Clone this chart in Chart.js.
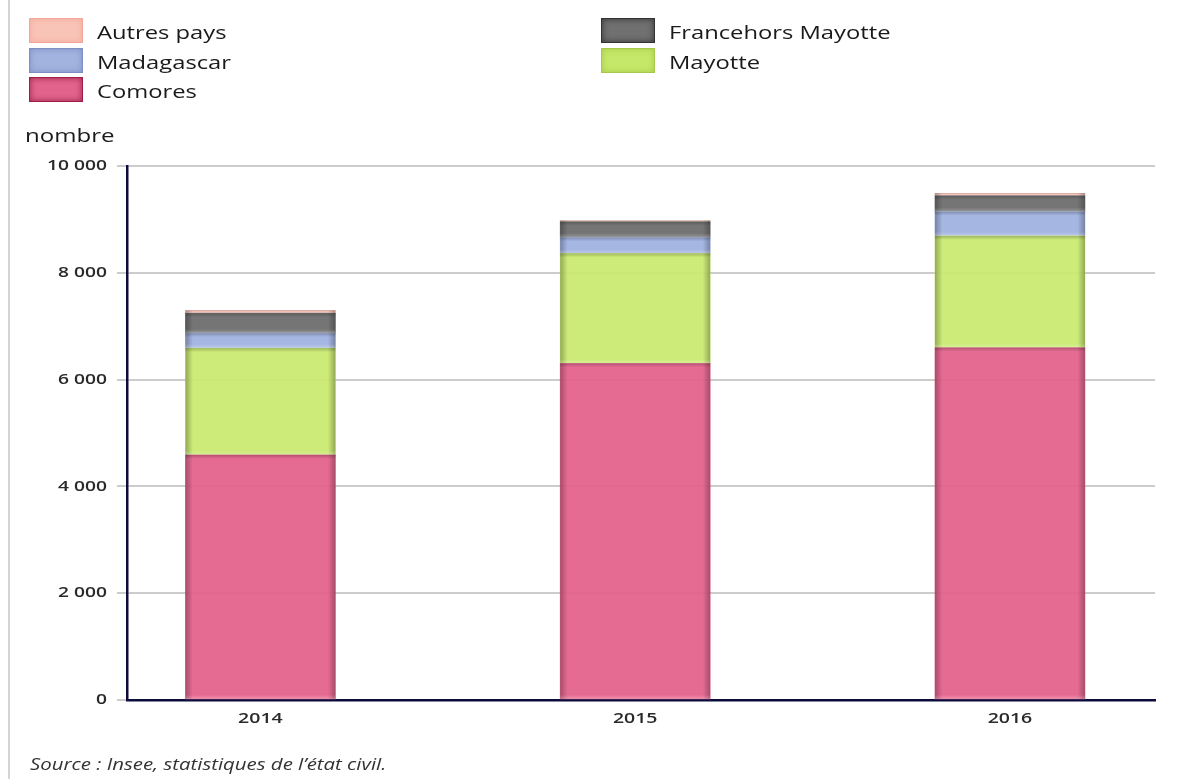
<!DOCTYPE html>
<html>
<head>
<meta charset="utf-8">
<script src="https://cdn.jsdelivr.net/npm/chart.js@4/dist/chart.umd.min.js"></script>
<style>
  html, body { margin: 0; padding: 0; background: #fff; }
  body { width: 1192px; height: 779px; position: relative; overflow: hidden; font-family: "Open Sans", sans-serif; }
  #wrap { position: absolute; left: 0; top: 0; width: 1192px; height: 779px; }
  #border { position: absolute; left: 8px; top: 0; width: 2px; height: 779px; background: #d4d4d4; }
  .leg { position: absolute; height: 25px; display: flex; align-items: center; color: #1a1a1a; white-space: nowrap; }
  .leg .box { width: 54px; height: 25px; margin-right: 14px; box-sizing: border-box; flex: none; }
  .leg .txt { display: inline-block; font-size: 19px; transform: scaleX(1.25); transform-origin: left center; margin-top: 3px; }
  #unit { position: absolute; left: 25px; top: 122px; font-size: 18.5px; color: #1a1a1a; transform: scaleX(1.3); transform-origin: left top; }
  #source { position: absolute; left: 30px; top: 752px; font-size: 17px; font-style: italic; color: #333; transform: scaleX(1.2); transform-origin: left top; white-space: nowrap; }
</style>
</head>
<body>
<div id="border"></div>
<div id="wrap"><canvas id="c" width="1192" height="779"></canvas></div>
<div id="legend"></div>
<div id="unit">nombre</div>
<div id="source">Source : Insee, statistiques de l’état civil.</div>
<script>
// ---- Data ----
const categories = ['2014', '2015', '2016'];
const comores    = [4590, 6305, 6600];
const mayotte    = [2000, 2060, 2090];
const madagascar = [280, 300, 455];
const franceHorsMayotte = [375, 293, 300];
const autresPays = [50, 20, 45];
const yTicks = [0, 2000, 4000, 6000, 8000, 10000];

// ---- Series (bottom to top) ----
const series = [
  { label: 'Comores', data: comores, color: 'rgba(228,98,140,0.94)', edge: '#9c1f48', sw: '#e2648c' },
  { label: 'Mayotte', data: mayotte, color: 'rgba(200,233,110,0.93)', edge: '#a6c94a', sw: '#c6e86a' },
  { label: 'Madagascar', data: madagascar, color: 'rgba(160,178,226,0.95)', edge: '#7c8fc4', sw: '#a3b3df' },
  { label: 'Francehors Mayotte', data: franceHorsMayotte, color: 'rgba(110,110,110,0.95)', edge: '#333333', sw: '#707070' },
  { label: 'Autres pays', data: autresPays, color: 'rgba(250,196,184,0.95)', edge: '#f2a898', sw: '#f9c4b8' }
];

// ---- HTML legend ----
const legendOrder = ['Autres pays', 'Francehors Mayotte', 'Madagascar', 'Mayotte', 'Comores'];
const legendEl = document.getElementById('legend');
legendOrder.forEach((name, i) => {
  const s = series.find(d => d.label === name);
  const col = i % 2, row = Math.floor(i / 2);
  const div = document.createElement('div');
  div.className = 'leg';
  div.style.left = (col === 0 ? 29 : 601) + 'px';
  div.style.top = (18 + row * 29.5) + 'px';
  const box = document.createElement('span');
  box.className = 'box';
  box.style.background = s.sw;
  box.style.border = '1px solid ' + s.edge;
  box.style.boxShadow = 'inset 0 0 6px ' + s.edge;
  div.appendChild(box);
  const t = document.createElement('span');
  t.className = 'txt';
  t.textContent = name;
  div.appendChild(t);
  legendEl.appendChild(div);
});

const fmt = v => v.toLocaleString('fr-FR').replace(/\s/g, ' ');

// ---- Shading plugin for glossy bar edges ----
const shade = {
  id: 'shade',
  afterDatasetsDraw(chart) {
    const ctx = chart.ctx;
    chart.data.datasets.forEach((ds, di) => {
      const meta = chart.getDatasetMeta(di);
      meta.data.forEach(bar => {
        const l = bar.x - bar.width / 2, r = bar.x + bar.width / 2;
        const top = Math.min(bar.y, bar.base), h = Math.abs(bar.base - bar.y);
        if (h <= 0) return;
        ctx.save();
        const g = ctx.createLinearGradient(l, 0, r, 0);
        g.addColorStop(0, 'rgba(0,0,0,0.28)');
        g.addColorStop(0.05, 'rgba(0,0,0,0.0)');
        g.addColorStop(0.95, 'rgba(0,0,0,0.0)');
        g.addColorStop(1, 'rgba(0,0,0,0.28)');
        ctx.fillStyle = g;
        ctx.fillRect(l, top, r - l, h);
        const vg = ctx.createLinearGradient(0, top, 0, top + h);
        const fr = Math.min(0.5, 4 / h);
        vg.addColorStop(0, 'rgba(0,0,0,0.22)');
        vg.addColorStop(fr, 'rgba(0,0,0,0)');
        vg.addColorStop(1 - fr, 'rgba(255,255,255,0)');
        vg.addColorStop(1, 'rgba(255,255,255,0.25)');
        ctx.fillStyle = vg;
        ctx.fillRect(l, top, r - l, h);
        ctx.restore();
      });
    });
  }
};

// ---- Stretched tick labels, placed with the chart's own scales ----
const tickLabels = {
  id: 'tickLabels',
  afterDraw(chart) {
    const ctx = chart.ctx;
    const ys = chart.scales.y, xs = chart.scales.x;
    ctx.save();
    ctx.fillStyle = '#2a2a2a';
    ctx.font = '600 15px "Open Sans"';
    ctx.textBaseline = 'middle';
    ctx.textAlign = 'right';
    yTicks.forEach(v => {
      ctx.save();
      ctx.translate(ys.right - 20, ys.getPixelForValue(v));
      ctx.scale(1.28, 1);
      ctx.fillText(fmt(v), 0, 0);
      ctx.restore();
    });
    ctx.textAlign = 'center';
    categories.forEach((c, i) => {
      ctx.save();
      ctx.translate(xs.getPixelForValue(i), xs.top + 19);
      ctx.scale(1.3, 1);
      ctx.fillText(c, 0, 0);
      ctx.restore();
    });
    ctx.restore();
  }
};

const datasets = series.map(s => ({
  label: s.label,
  data: s.data.map((v, i) => ({ x: i, y: v })),
  backgroundColor: s.color,
  borderColor: s.edge,
  borderWidth: 0,
  barThickness: 150
}));

new Chart(document.getElementById('c'), {
  type: 'bar',
  data: { datasets },
  plugins: [shade, tickLabels],
  options: {
    responsive: false,
    animation: false,
    layout: { padding: { left: 0, right: 37, top: 166, bottom: 0 } },
    plugins: { legend: { display: false }, tooltip: { enabled: false } },
    scales: {
      x: {
        type: 'linear',
        stacked: true,
        offset: false,
        min: -0.356,
        max: 2.387,
        afterBuildTicks: sc => { sc.ticks = categories.map((c, i) => ({ value: i })); },
        afterFit: sc => { sc.height = 79; },
        grid: { display: false, drawTicks: false },
        border: { display: true, color: '#0b0b3c', width: 2.5 },
        ticks: { display: false }
      },
      y: {
        stacked: true,
        min: 0,
        max: 10000,
        afterBuildTicks: sc => { sc.ticks = yTicks.map(v => ({ value: v })); },
        afterFit: sc => { sc.width = 127; },
        grid: { color: '#cccccc', lineWidth: 2, tickLength: 10, drawOnChartArea: true },
        border: { display: true, color: '#0b0b3c', width: 2.5 },
        ticks: { display: false }
      }
    }
  }
});
</script>
</body>
</html>
